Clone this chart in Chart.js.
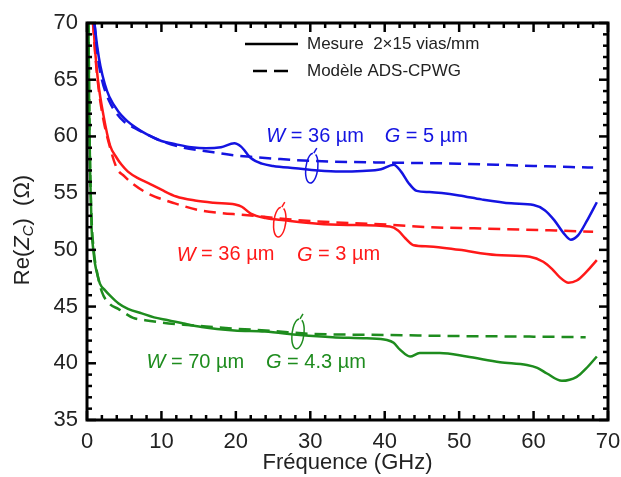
<!DOCTYPE html>
<html>
<head>
<meta charset="utf-8">
<script src="https://cdn.jsdelivr.net/npm/chart.js@4.4.1/dist/chart.umd.min.js"></script>
<style>
html, body { margin: 0; padding: 0; background: #fff; }
</style>
</head>
<body>
<canvas id="myChart" width="621" height="477"></canvas>
<script>
// Graduations des axes
var ticksX = [0, 10, 20, 30, 40, 50, 60, 70];
var ticksY = [35, 40, 45, 50, 55, 60, 65, 70];

// W = 36 µm, G = 5 µm (bleu)
var mesBleuF = [1.0, 1.4, 1.8, 2.4, 3.0, 4.2, 5.5, 6.5, 8.0, 10, 12, 14, 16, 18, 19.8, 20.7, 22, 23.5, 25, 28, 31, 34, 37, 39.5, 41.2, 42.2, 43.2, 44.3, 46, 50, 53, 57, 60, 61.5, 62.8, 64, 65, 66, 67.2, 68.5];
var mesBleuZ = [70, 67.8, 66.2, 64.6, 63.5, 62.2, 61.3, 60.8, 60.2, 59.6, 59.3, 59.05, 58.95, 59.05, 59.4, 59.1, 58.1, 57.6, 57.4, 57.2, 57.0, 56.9, 56.95, 57.1, 57.5, 56.9, 55.9, 55.2, 55.1, 54.8, 54.45, 54.1, 53.95, 53.5, 52.6, 51.5, 50.9, 51.3, 52.6, 54.2];
var modBleuF = [1.0, 1.5, 2.0, 3.0, 4.0, 5.0, 6.5, 8, 10, 13, 16, 19, 22, 26, 30, 35, 40, 45, 50, 55, 60, 65, 68];
var modBleuZ = [70, 66.8, 65.0, 63.1, 62.0, 61.3, 60.7, 60.2, 59.6, 59.0, 58.7, 58.4, 58.2, 58.0, 57.85, 57.75, 57.7, 57.65, 57.6, 57.5, 57.4, 57.3, 57.25];

// W = 36 µm, G = 3 µm (rouge)
var mesRougeF = [0.85, 1.1, 1.5, 2.2, 3.1, 4.0, 4.65, 5.5, 6.9, 8.5, 10, 12, 14.5, 17, 19.9, 20.8, 22, 24, 26.5, 31, 35, 40.7, 41.8, 42.8, 43.9, 46, 50, 55, 59.5, 61.3, 62.5, 63.5, 64.7, 65.8, 67, 68.5];
var mesRougeZ = [70, 67.5, 64.8, 61.9, 59.2, 58.1, 57.5, 56.9, 56.3, 55.8, 55.3, 54.7, 54.35, 54.15, 54.0, 53.8, 53.2, 52.8, 52.6, 52.3, 52.2, 52.05, 51.7, 51.0, 50.4, 50.3, 50.0, 49.55, 49.4, 48.95, 48.3, 47.6, 47.1, 47.3, 48.0, 49.1];
var modRougeF = [0.8, 1.2, 1.6, 2.2, 2.9, 4.0, 5.0, 6.0, 7.8, 9.1, 11.8, 15, 18, 20.8, 24, 27, 31, 36, 41, 46, 52, 58, 63, 68];
var modRougeZ = [70, 66.5, 64.0, 61.5, 59.5, 57.2, 56.5, 55.9, 55.1, 54.7, 54.1, 53.5, 53.25, 53.1, 52.9, 52.7, 52.5, 52.35, 52.2, 52.0, 51.9, 51.8, 51.7, 51.6];

// W = 70 µm, G = 4.3 µm (vert)
var mesVertF = [0.2, 0.3, 0.45, 0.63, 0.85, 1.07, 1.4, 1.75, 2.4, 3.2, 4.2, 5.5, 7.35, 9, 10.9, 13, 15.4, 19.8, 23.9, 28.6, 33, 37.6, 40.3, 41.2, 42.05, 43.4, 44.7, 47.4, 51, 55.5, 59.1, 60.5, 61.8, 63.8, 65.8, 67, 68.5];
var mesVertZ = [70, 62, 56, 51.7, 50.0, 48.8, 47.8, 47.0, 46.45, 45.9, 45.3, 44.8, 44.4, 44.05, 43.8, 43.5, 43.2, 42.9, 42.8, 42.5, 42.3, 42.2, 42.05, 41.8, 41.2, 40.6, 40.9, 40.9, 40.6, 40.1, 39.85, 39.6, 39.1, 38.45, 38.8, 39.5, 40.6];
var modVertF = [0.2, 0.35, 0.6, 0.9, 1.3, 2.0, 3.1, 4.2, 6.2, 7.8, 10, 13, 16, 20, 25, 30, 40, 50, 60, 67];
var modVertZ = [70, 60, 53, 50, 48.2, 46.3, 45.2, 44.8, 44.0, 43.8, 43.6, 43.4, 43.25, 43.05, 42.85, 42.6, 42.5, 42.4, 42.35, 42.3];

var bleu = 'rgb(20, 20, 225)';
var rouge = 'rgb(255, 25, 25)';
var vert = 'rgb(30, 140, 30)';
var police = 'Liberation Sans, Arial, Helvetica, sans-serif';

function points(fs, zs) {
    return fs.map(function (f, i) { return { x: f, y: zs[i] }; });
}

function serie(fs, zs, couleur, tirets) {
    return {
        data: points(fs, zs),
        borderColor: couleur,
        borderWidth: 2.5,
        borderDash: tirets ? [12, 7] : [],
        pointRadius: 0,
        tension: 0.35,
        cubicInterpolationMode: 'monotone',
        fill: false
    };
}

// Annotations (W, G) et ellipses, en coordonnées des données
var notes = [
    { couleur: bleu, wx: 24.1, gx: 40.0, y: 60.0, w: '36', g: '5', ex: 30.2, ey: 57.2 },
    { couleur: rouge, wx: 12.05, gx: 28.2, y: 49.55, w: '36', g: '3', ex: 25.9, ey: 52.45 },
    { couleur: vert, wx: 8.0, gx: 24.05, y: 40.1, w: '70', g: '4.3', ex: 28.35, ey: 42.6 }
];

function trait(c, x1, y1, x2, y2) {
    c.beginPath(); c.moveTo(x1, y1); c.lineTo(x2, y2); c.stroke();
}

function texteItalique(c, x, y, lettre, reste) {
    c.font = 'italic 20px ' + police;
    c.fillText(lettre, x, y);
    var w = c.measureText(lettre).width;
    c.font = '20px ' + police;
    c.fillText(reste, x + w, y);
}

var decor = {
    id: 'decor',
    afterDraw: function (chart) {
        var c = chart.ctx, a = chart.chartArea, sx = chart.scales.x, sy = chart.scales.y;
        c.save();
        c.strokeStyle = '#000';
        c.lineWidth = 2.5;
        // graduations vers l'intérieur
        for (var f = 0; f <= 70; f += 2) {
            var px = sx.getPixelForValue(f), l = f % 10 === 0 ? 9 : 5;
            trait(c, px, a.bottom, px, a.bottom - l);
            trait(c, px, a.top, px, a.top + l);
        }
        for (var z = 35; z <= 70; z += 1) {
            var py = sy.getPixelForValue(z), l2 = z % 5 === 0 ? 9 : 5;
            trait(c, a.left, py, a.left + l2, py);
            trait(c, a.right, py, a.right - l2, py);
        }
        c.lineWidth = 3;
        c.strokeRect(a.left, a.top, a.right - a.left, a.bottom - a.top);

        // légende
        c.lineWidth = 2.5;
        trait(c, 245, 44, 298, 44);
        c.setLineDash([14, 7]);
        trait(c, 253, 71, 290, 71);
        c.setLineDash([]);
        c.fillStyle = '#222';
        c.font = '17px ' + police;
        c.textBaseline = 'middle';
        c.fillText('Mesure  2\u00d715 vias/mm', 307, 44);
        c.fillText('Mod\u00e8le ADS-CPWG', 307, 71);

        // annotations
        notes.forEach(function (n) {
            c.fillStyle = n.couleur;
            c.strokeStyle = n.couleur;
            var y = sy.getPixelForValue(n.y);
            texteItalique(c, sx.getPixelForValue(n.wx), y, 'W', ' = ' + n.w + ' \u00b5m');
            texteItalique(c, sx.getPixelForValue(n.gx), y, 'G', ' = ' + n.g + ' \u00b5m');
            var ex = sx.getPixelForValue(n.ex), ey = sy.getPixelForValue(n.ey);
            c.lineWidth = 1.5;
            c.beginPath();
            c.ellipse(ex, ey, 6, 15, 0.12, -1.2, 4.6);
            c.stroke();
            trait(c, ex + 2, ey - 15, ex + 5, ey - 20);
        });

        // titres des axes
        c.fillStyle = '#222';
        c.font = '22px ' + police;
        c.textAlign = 'center';
        c.textBaseline = 'middle';
        c.fillText('Fr\u00e9quence (GHz)', (a.left + a.right) / 2, 463);

        c.save();
        c.translate(23, 230);
        c.rotate(-Math.PI / 2);
        c.textAlign = 'left';
        var morceaux = [
            { t: 'Re(', f: '22px ', dy: 0 },
            { t: 'Z', f: 'italic 22px ', dy: 0 },
            { t: 'C', f: 'italic 15px ', dy: 6 },
            { t: ')  (\u03a9)', f: '22px ', dy: 0 }
        ];
        var total = 0;
        morceaux.forEach(function (m) { c.font = m.f + police; total += c.measureText(m.t).width; });
        var x = -total / 2;
        morceaux.forEach(function (m) {
            c.font = m.f + police;
            c.fillText(m.t, x, m.dy);
            x += c.measureText(m.t).width;
        });
        c.restore();
        c.restore();
    }
};

var ctx = document.getElementById('myChart').getContext('2d');

var config = {
    type: 'line',
    data: {
        datasets: [
            serie(mesBleuF, mesBleuZ, bleu, false),
            serie(modBleuF, modBleuZ, bleu, true),
            serie(mesRougeF, mesRougeZ, rouge, false),
            serie(modRougeF, modRougeZ, rouge, true),
            serie(mesVertF, mesVertZ, vert, false),
            serie(modVertF, modVertZ, vert, true)
        ]
    },
    options: {
        responsive: false,
        animation: false,
        devicePixelRatio: 1,
        layout: { padding: { top: 23, right: 0, left: 0, bottom: 0 } },
        plugins: { legend: { display: false }, tooltip: { enabled: false } },
        scales: {
            x: {
                type: 'linear',
                min: 0, max: 70,
                afterFit: function (s) { s.height = 57; s.paddingRight = 13; },
                afterBuildTicks: function (s) { s.ticks = ticksX.map(function (v) { return { value: v }; }); },
                grid: { display: false, drawTicks: false },
                border: { display: false },
                ticks: { padding: 9, color: '#222', font: { family: police, size: 22 } }
            },
            y: {
                type: 'linear',
                min: 35, max: 70,
                afterFit: function (s) { s.width = 87; },
                afterBuildTicks: function (s) { s.ticks = ticksY.map(function (v) { return { value: v }; }); },
                grid: { display: false, drawTicks: false },
                border: { display: false },
                ticks: { padding: 9, color: '#222', font: { family: police, size: 22 } }
            }
        }
    },
    plugins: [decor]
};

var myChart = new Chart(ctx, config);
</script>
</body>
</html>
